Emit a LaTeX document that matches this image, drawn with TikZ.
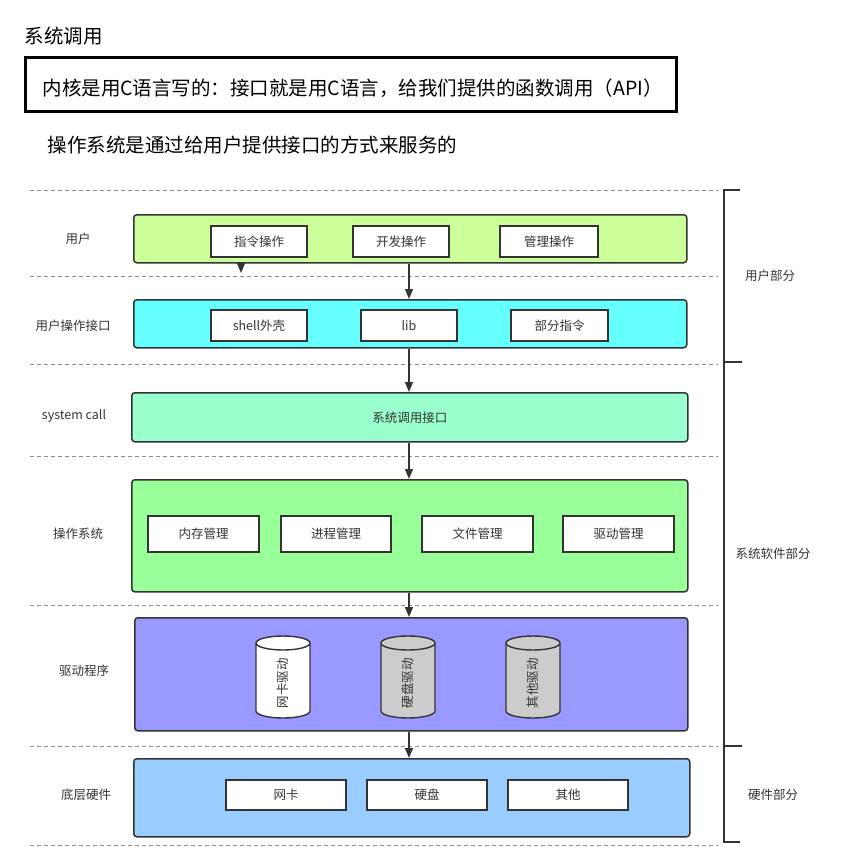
\documentclass[tikz,border=0pt]{standalone}
\usepackage{fontspec}
\setmainfont{Noto Sans CJK SC}
\usetikzlibrary{arrows.meta}
\definecolor{cuser}{HTML}{CCFF99}
\definecolor{copif}{HTML}{66FFFF}
\definecolor{csys}{HTML}{99FFCC}
\definecolor{cos}{HTML}{99FF99}
\definecolor{cdrv}{HTML}{9999FF}
\definecolor{chw}{HTML}{99CCFF}
\definecolor{cgray}{HTML}{CCCCCC}
\definecolor{cline}{HTML}{333333}
\definecolor{ctext}{HTML}{333333}
\newcommand\mycyl[4]{%
  \fill[#3] (#2-27,-643) -- (#2-27,-711) arc(180:360:27 and 7) -- (#2+27,-643) arc(0:180:27 and 7) -- cycle;
  \draw[draw=cline, line width=1.4pt] (#2-27,-643) -- (#2-27,-711) arc(180:360:27 and 7) -- (#2+27,-643) arc(0:180:27 and 7) arc(180:360:27 and 7);
  \node[lbl, rotate=90] (#1) at (#2,-683) {#4};
}
\begin{document}
\begin{tikzpicture}[x=1pt,y=1pt,
  layer/.style={draw=cline, line width=1.5pt, rounded corners=3pt, inner sep=0pt, anchor=north west},
  inner/.style={draw=cline, fill=white, line width=1.5pt, inner sep=0pt, font=\fontsize{12.5}{14}\selectfont, text=ctext},
  lbl/.style={font=\fontsize{12.5}{14}\selectfont, text=ctext},
  sep/.style={draw=black!45, dash pattern=on 4pt off 3pt, line width=0.9pt},
  flow/.style={draw=cline, line width=1.4pt, -{Triangle[length=10pt,width=8pt]}},
  brk/.style={draw=cline, line width=1.8pt},
  big/.style={font=\fontsize{19.5}{22}\selectfont, text=black},
]
\useasboundingbox (0,0) rectangle (846,-868);

% header
\node[big, anchor=west] (title) at (21,-36) {系统调用};
\node[draw=black, line width=3pt, minimum width=651pt, minimum height=54pt, inner sep=0pt, anchor=north west] (apibox) at (24,-56) {};
\node[big, anchor=west] (apitext) at (39,-88) {内核是用C语言写的：接口就是用C语言，给我们提供的函数调用（API）};
\node[big, anchor=west] (subtitle) at (44,-145) {操作系统是通过给用户提供接口的方式来服务的};

% separators
\foreach \yy/\nm in {190/s1,276/s2,364/s3,456/s4,605/s5,746/s6,845/s7}{
  \coordinate (\nm a) at (30,-\yy);
  \coordinate (\nm b) at (718,-\yy);
  \draw[sep] (\nm a) -- (\nm b);
}

% layers
\node[layer, fill=cuser, minimum width=553pt, minimum height=48pt] (user) at (133,-214) {};
\node[layer, fill=copif, minimum width=553pt, minimum height=48pt] (opif) at (133,-299) {};
\node[layer, fill=csys, minimum width=556pt, minimum height=49pt] (sys) at (131,-392) {};
\node[layer, fill=cos, minimum width=556pt, minimum height=112pt] (os) at (131,-479) {};
\node[layer, fill=cdrv, minimum width=553pt, minimum height=113pt] (drv) at (134,-617) {};
\node[layer, fill=chw, minimum width=556pt, minimum height=78pt] (hw) at (133,-758) {};

% left labels
\node[lbl] (luser) at (78,-239) {用户};
\node[lbl] (lopif) at (73,-326) {用户操作接口};
\node[lbl] (lsys) at (74,-416) {system call};
\node[lbl] (los) at (78,-534) {操作系统};
\node[lbl] (ldrv) at (84,-671) {驱动程序};
\node[lbl] (lhw) at (86,-795) {底层硬件};

% user layer
\node[inner, minimum width=96pt, minimum height=31pt] (u1) at (259,-241.5) {指令操作};
\node[inner, minimum width=96pt, minimum height=31pt] (u2) at (401,-241.5) {开发操作};
\node[inner, minimum width=98pt, minimum height=31pt] (u3) at (549,-241.5) {管理操作};

% user op interface
\node[inner, minimum width=96pt, minimum height=31pt] (o1) at (259,-325.5) {shell外壳};
\node[inner, minimum width=96pt, minimum height=31pt] (o2) at (409,-325.5) {lib};
\node[inner, minimum width=97pt, minimum height=31pt] (o3) at (559.5,-325.5) {部分指令};

% syscall
\node[lbl] (sysi) at (sys.center) {系统调用接口};

% os
\node[inner, minimum width=111pt, minimum height=36pt] (k1) at (203.5,-534) {内存管理};
\node[inner, minimum width=110pt, minimum height=36pt] (k2) at (336,-534) {进程管理};
\node[inner, minimum width=111pt, minimum height=36pt] (k3) at (477.5,-534) {文件管理};
\node[inner, minimum width=111pt, minimum height=36pt] (k4) at (618.5,-534) {驱动管理};

% drivers
\mycyl{d1}{283}{white}{网卡驱动}
\mycyl{d2}{408}{cgray}{硬盘驱动}
\mycyl{d3}{533}{cgray}{其他驱动}

% hardware
\node[inner, minimum width=120pt, minimum height=30pt] (h1) at (286,-795) {网卡};
\node[inner, minimum width=120pt, minimum height=30pt] (h2) at (427,-795) {硬盘};
\node[inner, minimum width=120pt, minimum height=30pt] (h3) at (568,-795) {其他};

% arrows
\coordinate (ax) at (409,0);
\coordinate (stub) at (241,-273);
\draw[flow] (user.south -| stub) -- (stub);
\draw[flow] (user.south -| ax) -- (opif.north -| ax);
\draw[flow] (opif.south -| ax) -- (sys.north -| ax);
\draw[flow] (sys.south -| ax) -- (os.north -| ax);
\draw[flow] (os.south -| ax) -- (drv.north -| ax);
\draw[flow] (drv.south -| ax) -- (hw.north -| ax);

% brackets
\coordinate (b0) at (724,-190);
\coordinate (b1) at (724,-362);
\coordinate (b2) at (724,-746);
\coordinate (b3) at (724,-842);
\draw[brk] (740,-190) -- (b0) -- (b3) -- (740,-842);
\draw[brk] (b1) -- (742,-362);
\draw[brk] (b2) -- (742,-746);
\node[lbl] (ruser) at (770,-276) {用户部分};
\node[lbl] (rsys) at (773,-554) {系统软件部分};
\node[lbl] (rhw) at (773,-795) {硬件部分};
\end{tikzpicture}
\end{document}
